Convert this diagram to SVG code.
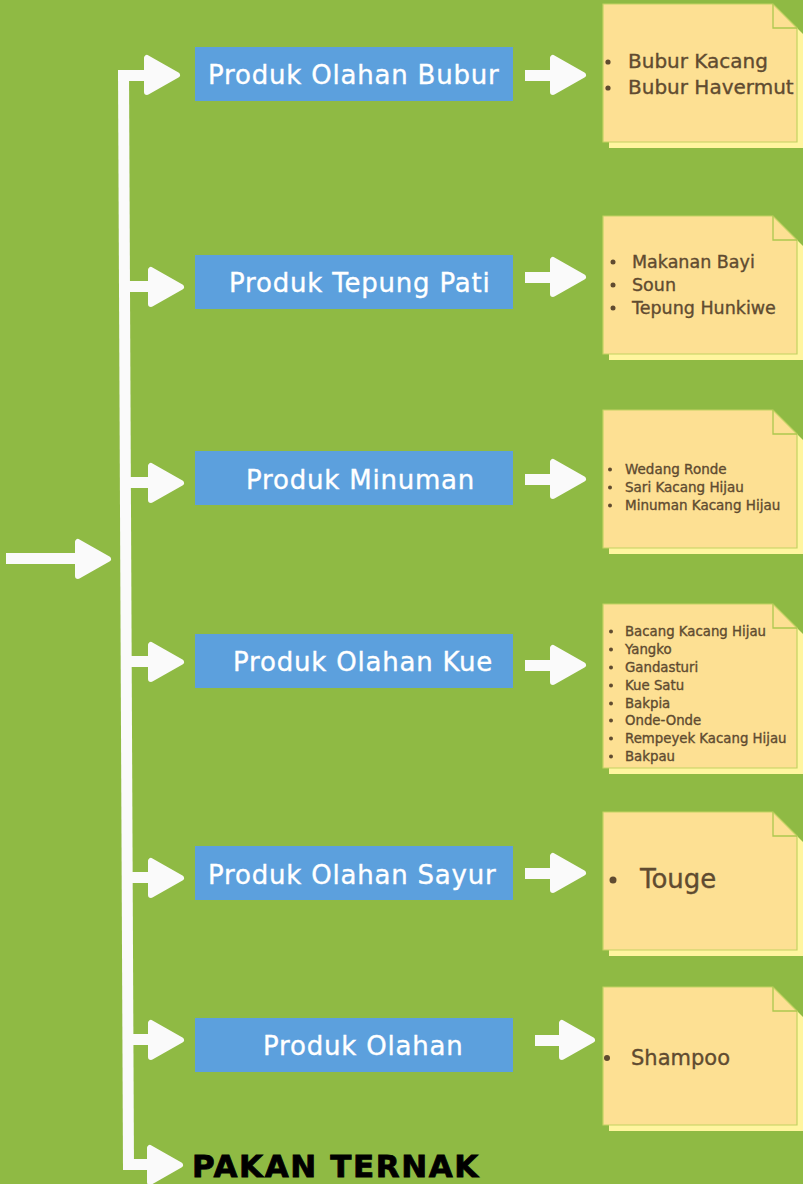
<svg xmlns="http://www.w3.org/2000/svg" xmlns:xlink="http://www.w3.org/1999/xlink" width="803" height="1184" viewBox="0 0 803 1184">
<style>
.bg{fill:#8FBA44}
.box{fill:#5CA0DD}
.boxt{font-family:"DejaVu Sans",sans-serif;font-size:26px;fill:#FFFFFF;stroke:#FFFFFF;stroke-width:0.35;letter-spacing:0.8px}
.note{fill:#FDE093;stroke:#C3D262;stroke-width:1.2}
.shadow{fill:#FFF59F}
.fold{fill:none;stroke:#ADC84F;stroke-width:1.3}
.nt{font-family:"DejaVu Sans",sans-serif;fill:#604B30;stroke:#604B30;stroke-width:0.35}
.bul{fill:#604B30;stroke:none}
.w{fill:#FAFAFA}
.head{fill:#FAFAFA;stroke:#FAFAFA;stroke-width:6;stroke-linejoin:round}
.pakan{font-family:"DejaVu Sans",sans-serif;font-weight:bold;font-size:31px;fill:#000000;stroke:#000000;stroke-width:0.8;letter-spacing:1.6px}
</style>
<defs>
<path id="hd" class="head" d="M0,-17 L0,17 L30,0 Z"/>
<path id="nshape" d="M0,0 H170 L194,24 V138 H0 Z"/>
</defs>
<rect class="bg" x="0" y="0" width="803" height="1184"/>

<g id="connectors">
<polygon class="w" points="118,70 129,70 134,1170 123,1170"/>
<rect class="w" x="6" y="553" width="76" height="11"/>
<use xlink:href="#hd" x="78" y="559"/>
<rect class="w" x="118" y="70" width="32" height="11"/>
<use xlink:href="#hd" x="147" y="75"/>
<rect class="w" x="125" y="281" width="28" height="11"/>
<use xlink:href="#hd" x="151" y="287"/>
<rect class="w" x="126" y="477" width="28" height="11"/>
<use xlink:href="#hd" x="151" y="483"/>
<rect class="w" x="127" y="656" width="28" height="11"/>
<use xlink:href="#hd" x="151" y="662"/>
<rect class="w" x="128" y="872" width="28" height="11"/>
<use xlink:href="#hd" x="151" y="878"/>
<rect class="w" x="129" y="1034" width="28" height="11"/>
<use xlink:href="#hd" x="151" y="1040"/>
<rect class="w" x="123" y="1159" width="36" height="11"/>
<use xlink:href="#hd" x="150" y="1165"/>
<rect class="w" x="525" y="70" width="32" height="11"/>
<use xlink:href="#hd" x="553" y="75"/>
<rect class="w" x="525" y="272" width="32" height="11"/>
<use xlink:href="#hd" x="553" y="277"/>
<rect class="w" x="525" y="474" width="32" height="11"/>
<use xlink:href="#hd" x="553" y="479"/>
<rect class="w" x="525" y="660" width="32" height="11"/>
<use xlink:href="#hd" x="553" y="665"/>
<rect class="w" x="525" y="868" width="32" height="11"/>
<use xlink:href="#hd" x="553" y="873"/>
<rect class="w" x="535" y="1035" width="32" height="11"/>
<use xlink:href="#hd" x="562" y="1040"/>
</g>

<g id="box1"><rect class="box" x="195" y="47" width="318" height="54"/><text class="boxt" x="208" y="84">Produk Olahan Bubur</text></g>
<g id="box2"><rect class="box" x="195" y="255" width="318" height="54"/><text class="boxt" x="229" y="292">Produk Tepung Pati</text></g>
<g id="box3"><rect class="box" x="195" y="451" width="318" height="54"/><text class="boxt" x="246" y="489">Produk Minuman</text></g>
<g id="box4"><rect class="box" x="195" y="634" width="318" height="54"/><text class="boxt" x="233" y="671">Produk Olahan Kue</text></g>
<g id="box5"><rect class="box" x="195" y="846" width="318" height="54"/><text class="boxt" x="208" y="884">Produk Olahan Sayur</text></g>
<g id="box6"><rect class="box" x="195" y="1018" width="318" height="54"/><text class="boxt" x="263" y="1055">Produk Olahan</text></g>

<g id="note1" transform="translate(603,4)">
<use xlink:href="#nshape" class="shadow" x="6" y="6"/>
<use xlink:href="#nshape" class="note"/>
<path class="fold" d="M170,0 V24 H194"/>
<g class="nt" font-size="20">
<circle class="bul" cx="5" cy="58" r="2.6"/><text x="25" y="64">Bubur Kacang</text>
<circle class="bul" cx="5" cy="84" r="2.6"/><text x="25" y="90">Bubur Havermut</text>
</g>
</g>

<g id="note2" transform="translate(603,216)">
<use xlink:href="#nshape" class="shadow" x="6" y="6"/>
<use xlink:href="#nshape" class="note"/>
<path class="fold" d="M170,0 V24 H194"/>
<g class="nt" font-size="17.5">
<circle class="bul" cx="10" cy="46" r="2.5"/><text x="29" y="52">Makanan Bayi</text>
<circle class="bul" cx="10" cy="69" r="2.5"/><text x="29" y="75">Soun</text>
<circle class="bul" cx="10" cy="92" r="2.5"/><text x="29" y="98">Tepung Hunkiwe</text>
</g>
</g>

<g id="note3" transform="translate(603,410)">
<use xlink:href="#nshape" class="shadow" x="6" y="6"/>
<use xlink:href="#nshape" class="note"/>
<path class="fold" d="M170,0 V24 H194"/>
<g class="nt" font-size="13.5">
<circle class="bul" cx="7" cy="59.5" r="2"/><text x="22" y="64">Wedang Ronde</text>
<circle class="bul" cx="7" cy="77.5" r="2"/><text x="22" y="82">Sari Kacang Hijau</text>
<circle class="bul" cx="7" cy="95.5" r="2"/><text x="22" y="100">Minuman Kacang Hijau</text>
</g>
</g>

<g id="note4" transform="translate(603,604)">
<path class="shadow" d="M6,6 H176 L200,30 V170 H6 Z"/>
<path class="note" d="M0,0 H170 L194,24 V164 H0 Z"/>
<path class="fold" d="M170,0 V24 H194"/>
<g class="nt" font-size="13.3">
<circle class="bul" cx="8" cy="27.5" r="2"/><text x="22" y="32">Bacang Kacang Hijau</text>
<circle class="bul" cx="8" cy="45.5" r="2"/><text x="22" y="50">Yangko</text>
<circle class="bul" cx="8" cy="63.5" r="2"/><text x="22" y="68">Gandasturi</text>
<circle class="bul" cx="8" cy="81.5" r="2"/><text x="22" y="86">Kue Satu</text>
<circle class="bul" cx="8" cy="99.5" r="2"/><text x="22" y="104">Bakpia</text>
<circle class="bul" cx="8" cy="116.5" r="2"/><text x="22" y="121">Onde-Onde</text>
<circle class="bul" cx="8" cy="134.5" r="2"/><text x="22" y="139">Rempeyek Kacang Hijau</text>
<circle class="bul" cx="8" cy="152.5" r="2"/><text x="22" y="157">Bakpau</text>
</g>
</g>

<g id="note5" transform="translate(603,812)">
<use xlink:href="#nshape" class="shadow" x="6" y="6"/>
<use xlink:href="#nshape" class="note"/>
<path class="fold" d="M170,0 V24 H194"/>
<g class="nt" font-size="26">
<circle class="bul" cx="10" cy="68" r="3.5"/><text x="37" y="76">Touge</text>
</g>
</g>

<g id="note6" transform="translate(603,987)">
<use xlink:href="#nshape" class="shadow" x="6" y="6"/>
<use xlink:href="#nshape" class="note"/>
<path class="fold" d="M170,0 V24 H194"/>
<g class="nt" font-size="21">
<circle class="bul" cx="4" cy="71" r="3"/><text x="28" y="78">Shampoo</text>
</g>
</g>

<g id="pakan"><text class="pakan" x="192" y="1177">PAKAN TERNAK</text></g>
</svg>
